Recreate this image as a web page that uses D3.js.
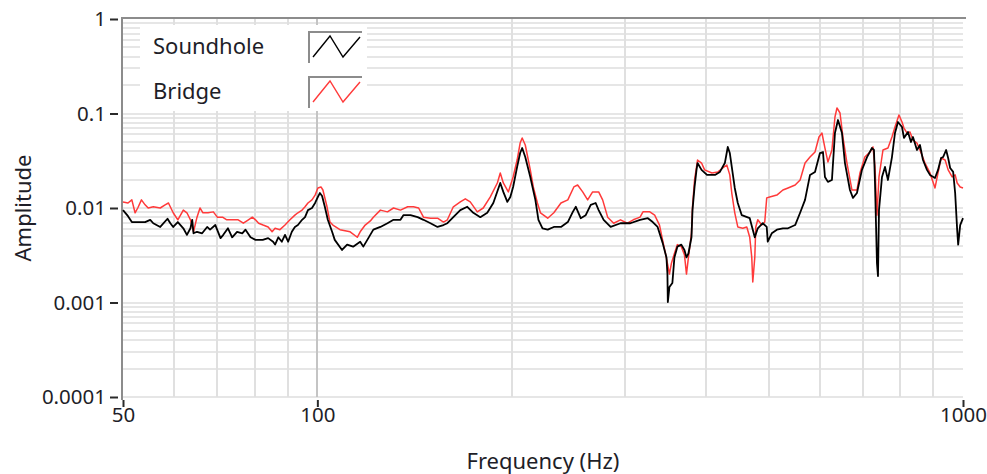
<!DOCTYPE html>
<html>
<head>
<meta charset="utf-8">
<script src="https://cdn.jsdelivr.net/npm/d3@7"></script>
<style>
  body { margin: 0; background: #fff; }
  text { font-family: "Noto Sans", "Open Sans", sans-serif; fill: #1e1e28; }
</style>
</head>
<body>
<svg id="chart" width="987" height="474"></svg>
<script>
// Frequency response of a guitar top, measured at the soundhole and at the bridge.
const freqSoundhole = [
  50.0, 50.9, 51.6, 54.1, 55.1, 55.7, 57.1, 58.6, 59.2, 59.8, 60.8, 62.0, 62.8, 63.6, 64.0, 64.3,
  65.1, 66.3, 67.5, 68.2, 69.5, 70.8, 71.5, 72.7, 73.8, 75.1, 76.5, 77.4, 78.8, 80.2, 82.3, 83.9,
  85.4, 86.0, 87.0, 88.1, 89.1, 90.1, 91.3, 92.3, 93.3, 94.7, 95.7, 96.7, 98.1, 99.2, 100.2, 100.9,
  101.7, 102.7, 103.8, 105.4, 106.4, 109.2, 111.2, 113.6, 116.5, 117.8, 119.5, 122.1, 125.2, 128.4,
  131.2, 134.5, 135.9, 139.4, 143.0, 146.0, 149.7, 153.5, 156.8, 159.0, 162.4, 166.5, 170.7, 174.4,
  178.8, 183.3, 187.3, 192.0, 194.1, 196.9, 199.0, 201.0, 203.9, 206.1, 207.6, 209.9, 213.7, 217.6,
  220.0, 223.2, 227.4, 232.4, 238.4, 244.3, 248.7, 251.4, 255.8, 260.4, 265.1, 269.8, 272.7, 277.6,
  284.6, 294.8, 305.3, 316.1, 325.0, 330.7, 336.5, 342.5, 347.3, 348.5, 349.0, 351.0, 354.7, 357.3,
  361.1, 366.2, 370.3, 373.0, 375.6, 379.7, 381.1, 383.9, 386.6, 388.0, 393.6, 401.3, 412.9, 420.2,
  427.7, 432.2, 435.3, 438.4, 443.1, 447.9, 454.3, 467.4, 472.5, 475.9, 481.0, 489.6, 496.6, 498.4,
  505.6, 514.9, 526.1, 535.8, 549.6, 559.4, 569.3, 579.5, 589.9, 600.4, 606.9, 611.2, 617.7, 626.6,
  633.4, 640.3, 649.4, 656.4, 668.2, 675.4, 685.1, 697.4, 710.2, 722.8, 728.0, 730.6, 735.8, 738.5,
  741.1, 749.1, 757.1, 765.2, 776.2, 784.6, 793.0, 804.5, 810.1, 821.8, 830.6, 836.6, 848.6, 857.7,
  867.0, 879.4, 888.9, 905.0, 914.8, 924.8, 931.5, 941.6, 948.4, 955.2, 965.5, 972.4, 979.4, 982.9,
  990.0, 1000.0
];
const ampSoundhole = [
  0.0095, 0.0082, 0.0071, 0.0071, 0.0075, 0.0069, 0.0063, 0.0077, 0.0069, 0.0063, 0.0071, 0.0061, 0.0052, 0.0061, 0.0075, 0.0054,
  0.0056, 0.0054, 0.0063, 0.0059, 0.0066, 0.0048, 0.0052, 0.0061, 0.0049, 0.0056, 0.0054, 0.0059, 0.0049, 0.0046, 0.0046, 0.0048,
  0.0044, 0.0041, 0.0049, 0.0044, 0.0052, 0.0044, 0.0056, 0.0063, 0.0066, 0.0075, 0.0080, 0.0095, 0.0100, 0.0113, 0.0131, 0.0144,
  0.0134, 0.0103, 0.0075, 0.0056, 0.0046, 0.0036, 0.0041, 0.0039, 0.0044, 0.0039, 0.0046, 0.0059, 0.0063, 0.0069,
  0.0075, 0.0075, 0.0084, 0.0084, 0.0080, 0.0075, 0.0069, 0.0063, 0.0066, 0.0069, 0.0080, 0.0095, 0.0103, 0.0089,
  0.0080, 0.0089, 0.0113, 0.0184, 0.0148, 0.0116, 0.0131, 0.0167, 0.0272, 0.0382, 0.0431, 0.0346, 0.0213, 0.0122,
  0.0075, 0.0061, 0.0059, 0.0063, 0.0063, 0.0071, 0.0091, 0.0103, 0.0078, 0.0084, 0.0108, 0.0113, 0.0095, 0.0075,
  0.0063, 0.0069, 0.0069, 0.0075, 0.0078, 0.0071, 0.0063, 0.0043, 0.0030, 0.0020, 0.00101, 0.00146, 0.00161, 0.0030,
  0.0039, 0.0041, 0.0036, 0.0030, 0.0033, 0.0049, 0.0095, 0.0167, 0.0253, 0.0299, 0.0253, 0.0224, 0.0224, 0.0241,
  0.0299, 0.0442, 0.0382, 0.0272, 0.0163, 0.0113, 0.0084, 0.0078, 0.0059, 0.0049, 0.0061, 0.0069, 0.0063, 0.0044,
  0.0054, 0.0059, 0.0061, 0.0061, 0.0066, 0.0089, 0.0122, 0.0224, 0.0241, 0.0382, 0.0391, 0.0213, 0.0189, 0.0198,
  0.0622, 0.0853, 0.0622, 0.0299, 0.0155, 0.0128, 0.0144, 0.0253, 0.0346, 0.0431, 0.0411, 0.0184, 0.0026, 0.0019,
  0.0095, 0.0213, 0.0272, 0.0198, 0.0346, 0.0622, 0.0813, 0.0720, 0.0551, 0.0637, 0.0499, 0.0564, 0.0411, 0.0464,
  0.0322, 0.0253, 0.0224, 0.0208, 0.0253, 0.0338, 0.0346, 0.0411, 0.0338, 0.0265, 0.0241, 0.0144, 0.0059, 0.0041,
  0.0066, 0.0078
];
const freqBridge = [
  50.0, 50.9, 51.6, 52.2, 52.7, 53.4, 54.1, 54.7, 55.7, 57.1, 58.1, 58.8, 59.8, 60.8, 62.0, 62.8,
  63.6, 64.3, 65.1, 65.8, 66.5, 67.7, 69.0, 70.0, 71.3, 72.4, 73.8, 75.4, 76.8, 78.2, 79.3, 80.2,
  81.1, 82.4, 83.9, 85.1, 86.0, 87.5, 89.1, 90.7, 92.3, 93.3, 94.7, 95.7, 96.7, 98.1, 99.2, 100.2,
  101.3, 102.0, 103.5, 104.6, 105.7, 108.4, 112.4, 115.3, 116.5, 118.6, 120.8, 122.1, 125.2, 128.4,
  131.2, 134.5, 138.0, 140.9, 143.5, 146.0, 149.7, 153.5, 156.8, 159.0, 162.4, 166.5, 169.5, 172.5,
  176.9, 180.7, 185.3, 190.0, 192.0, 194.1, 197.6, 201.0, 203.9, 206.1, 207.6, 209.9, 213.7, 216.0,
  219.2, 221.6, 227.4, 232.4, 238.4, 244.3, 249.6, 253.0, 257.6, 262.2, 266.9, 272.7, 276.6, 281.6,
  287.7, 294.8, 302.1, 308.5, 316.1, 319.4, 327.3, 333.0, 338.8, 342.5, 346.1, 348.5, 351.0, 353.5,
  357.3, 361.1, 366.2, 370.3, 373.0, 375.6, 379.7, 381.1, 383.9, 388.0, 393.6, 397.9, 408.4, 417.3,
  424.6, 430.7, 435.3, 438.4, 443.1, 447.9, 455.9, 462.5, 467.4, 470.8, 472.5, 475.9, 477.6, 481.0,
  487.9, 493.1, 496.6, 501.9, 514.9, 526.1, 535.8, 549.6, 559.4, 569.3, 579.5, 589.9, 598.3, 604.7,
  611.2, 617.7, 626.6, 633.4, 638.0, 644.9, 651.7, 661.1, 673.0, 685.1, 692.5, 704.6, 717.6, 725.4,
  730.6, 735.8, 741.1, 751.7, 765.2, 776.2, 784.6, 795.8, 804.5, 810.1, 818.8, 827.7, 836.6, 848.6,
  857.7, 873.2, 888.9, 905.0, 914.8, 924.8, 938.2, 948.4, 962.0, 972.4, 979.4, 990.0, 1000.0
];
const ampBridge = [
  0.0116, 0.0113, 0.0122, 0.0089, 0.0100, 0.0122, 0.0108, 0.0100, 0.0103, 0.0100, 0.0108, 0.0113, 0.0089, 0.0075, 0.0095, 0.0089,
  0.0075, 0.0056, 0.0080, 0.0100, 0.0089, 0.0089, 0.0091, 0.0080, 0.0080, 0.0075, 0.0075, 0.0075, 0.0069, 0.0075, 0.0080, 0.0075,
  0.0069, 0.0066, 0.0063, 0.0056, 0.0061, 0.0059, 0.0066, 0.0075, 0.0084, 0.0089, 0.0095, 0.0103, 0.0113, 0.0122, 0.0137, 0.0163,
  0.0167, 0.0155, 0.0103, 0.0071, 0.0066, 0.0059, 0.0056, 0.0049, 0.0056, 0.0066, 0.0073, 0.0080, 0.0095, 0.0091,
  0.0100, 0.0095, 0.0103, 0.0103, 0.0100, 0.0080, 0.0078, 0.0078, 0.0071, 0.0075, 0.0103, 0.0116, 0.0125, 0.0116,
  0.0091, 0.0100, 0.0131, 0.0184, 0.0235, 0.0184, 0.0148, 0.0213, 0.0322, 0.0487, 0.0551, 0.0464, 0.0253, 0.0167,
  0.0113, 0.0089, 0.0078, 0.0089, 0.0113, 0.0122, 0.0167, 0.0175, 0.0148, 0.0122, 0.0148, 0.0148, 0.0122, 0.0080,
  0.0069, 0.0075, 0.0069, 0.0075, 0.0080, 0.0091, 0.0091, 0.0084, 0.0066, 0.0046, 0.0033, 0.0026, 0.0020, 0.0026,
  0.0033, 0.0041, 0.0039, 0.0032, 0.0020, 0.0030, 0.0054, 0.0103, 0.0198, 0.0322, 0.0299, 0.0253, 0.0235, 0.0241,
  0.0265, 0.0285, 0.0224, 0.0144, 0.0089, 0.0063, 0.0061, 0.0063, 0.0049, 0.0030, 0.00165, 0.0030, 0.0063, 0.0075,
  0.0066, 0.0071, 0.0128, 0.0131, 0.0137, 0.0155, 0.0163, 0.0175, 0.0198, 0.0299, 0.0346, 0.0391, 0.0564, 0.0622,
  0.0431, 0.0307, 0.0411, 0.0918, 0.1144, 0.1012, 0.0564, 0.0299, 0.0155, 0.0155, 0.0235, 0.0346, 0.0391, 0.0442,
  0.0272, 0.0084, 0.0213, 0.0411, 0.0431, 0.0564, 0.0720, 0.0964, 0.0813, 0.0702, 0.0622, 0.0637, 0.0524, 0.0487,
  0.0411, 0.0299, 0.0235, 0.0163, 0.0235, 0.0338, 0.0322, 0.0253, 0.0213, 0.0224, 0.0184, 0.0167, 0.0163
];

const seriesNames = ["Soundhole", "Bridge"];
const seriesColors = ["#000000", "#ff3a3a"];
const seriesWidths = [1.8, 1.5];

const xTickValues = [50, 100, 1000];
const xTickLabels = ["50", "100", "1000"];
const yTickValues = [1, 0.1, 0.01, 0.001, 0.0001];
const yTickLabels = ["1", "0.1", "0.01", "0.001", "0.0001"];

const svg = d3.select("#chart");
const plot = { left: 123, right: 963, top: 19, bottom: 397 };

const x = d3.scaleLog().domain([50, 1000]).range([plot.left, plot.right]);
const y = d3.scaleLog().domain([0.0001, 1]).range([plot.bottom, plot.top]);

// Grid
const grid = svg.append("g");
const yGrid = y.ticks().filter(v => v < 1);
grid.selectAll("line.hg").data(yGrid).join("line")
  .attr("x1", plot.left).attr("x2", plot.right)
  .attr("y1", d => Math.round(y(d))).attr("y2", d => Math.round(y(d)))
  .attr("stroke", "#e6e6e6").attr("stroke-width", 2);

const xGrid = x.ticks().filter(v => v > 50 && v < 1000);
grid.selectAll("line.vg").data(xGrid).join("line")
  .attr("x1", d => Math.round(x(d))).attr("x2", d => Math.round(x(d)))
  .attr("y1", plot.top).attr("y2", plot.bottom)
  .attr("stroke", d => d === 100 ? "#c4c4c4" : "#e0e0e0")
  .attr("stroke-width", 2);

// Legend panel sits over the grid
svg.append("rect").attr("x", 140).attr("y", 25).attr("width", 227).attr("height", 86).attr("fill", "#fff");

// Frame: left axis line and top edge
svg.append("line").attr("x1", 122).attr("x2", 122).attr("y1", 17).attr("y2", 400)
  .attr("stroke", "#8c8c8c").attr("stroke-width", 2);
svg.append("line").attr("x1", 121).attr("x2", 966).attr("y1", 18).attr("y2", 18)
  .attr("stroke", "#8c8c8c").attr("stroke-width", 2);

// Series
const line = d3.line().x(d => x(d[0])).y(d => y(d[1]));
const seriesData = [
  d3.zip(freqSoundhole, ampSoundhole),
  d3.zip(freqBridge, ampBridge)
];
[1, 0].forEach(i => {
  svg.append("path").datum(seriesData[i])
    .attr("d", line)
    .attr("fill", "none")
    .attr("stroke", seriesColors[i])
    .attr("stroke-width", seriesWidths[i])
    .attr("stroke-linejoin", "round");
});

// Axes
const yAxis = d3.axisLeft(y).tickValues(yTickValues)
  .tickFormat((d, i) => yTickLabels[i]).tickSizeInner(8).tickSizeOuter(0).tickPadding(4);
const gy = svg.append("g").attr("transform", "translate(118,0)").call(yAxis);
gy.select(".domain").remove();
gy.selectAll(".tick line").attr("stroke", "#2a2a2a").attr("stroke-width", 2);
gy.selectAll(".tick text").attr("font-size", 20.5).attr("fill", "#1e1e28")
  .style("font-family", "'Noto Sans', sans-serif");

const xAxis = d3.axisBottom(x).tickValues(xTickValues)
  .tickFormat((d, i) => xTickLabels[i]).tickSizeInner(7).tickSizeOuter(0).tickPadding(0);
const gx = svg.append("g").attr("transform", "translate(0,400)").call(xAxis);
gx.select(".domain").remove();
gx.selectAll(".tick line").attr("stroke", "#2a2a2a").attr("stroke-width", 2);
gx.selectAll(".tick text").attr("font-size", 20.5).attr("fill", "#1e1e28")
  .style("font-family", "'Noto Sans', sans-serif");

// Axis titles
svg.append("text").attr("x", (plot.left + plot.right) / 2).attr("y", 469)
  .attr("text-anchor", "middle").attr("font-size", 22).text("Frequency (Hz)");
svg.append("text").attr("transform", "translate(31,208) rotate(-90)")
  .attr("text-anchor", "middle").attr("font-size", 22).text("Amplitude");

// Legend
const legend = svg.append("g");
const rowY = [46, 91];
seriesNames.forEach((name, i) => {
  const g = legend.append("g").attr("transform", `translate(0,${rowY[i]})`);
  g.append("text").attr("x", 153).attr("y", 8).attr("font-size", 22).text(name);
  g.append("path").attr("d", "M309,17 V-14 H362")
    .attr("fill", "none").attr("stroke", "#8c8c8c").attr("stroke-width", 2);
  g.append("path").attr("d", "M313,11 L330,-10 L343,11 L360,-9")
    .attr("fill", "none").attr("stroke", seriesColors[i]).attr("stroke-width", 1.4);
});
</script>
</body>
</html>
